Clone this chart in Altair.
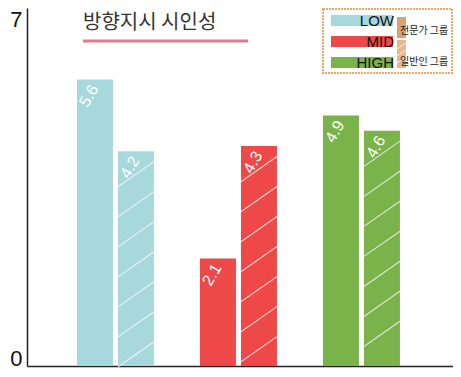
import altair as alt
import pandas as pd

groups = ["LOW", "MID", "HIGH"]
series = ["전문가 그룹", "일반인 그룹"]
expert = [5.6, 2.1, 4.9]
general = [4.2, 4.3, 4.6]
colors = ["#a7d8dc", "#ee4848", "#79b34a"]
title_text = "방향지시 시인성"
y_ticks = [0, 7]

rows = []
for g, e, n in zip(groups, expert, general):
    rows.append({"group": g, "series": series[0], "value": e})
    rows.append({"group": g, "series": series[1], "value": n})
df = pd.DataFrame(rows)
one = pd.DataFrame({"k": [0]})

W, H = 426, 358
xscale = alt.Scale(domain=groups, paddingInner=0.374, paddingOuter=0.4187, align=0.485)
xoff = alt.Scale(domain=series, paddingInner=0.122, paddingOuter=0)
yscale = alt.Scale(domain=[0, 7], nice=False)

top_test = f"datum.value == {y_ticks[-1]}"

base = alt.Chart(df)
X = alt.X("group:N", scale=xscale, sort=groups,
          axis=alt.Axis(labels=False, ticks=False, title=None, grid=False,
                        domainColor="#222", domainWidth=1.5))
XO = alt.XOffset("series:N", scale=xoff, sort=series)

bars = base.mark_bar().encode(
    x=X,
    xOffset=XO,
    y=alt.Y("value:Q", scale=yscale,
            axis=alt.Axis(values=y_ticks, title=None, grid=False, ticks=False,
                          domainColor="#222", domainWidth=1.5,
                          labelFont="Liberation Sans", labelFontSize=22,
                          labelColor="#111", labelPadding=5,
                          minExtent=19, maxExtent=19,
                          labelBaseline={"condition": {"test": top_test, "value": "top"},
                                         "value": "middle"},
                          labelOffset={"condition": {"test": top_test, "value": 1},
                                       "value": -8})),
    color=alt.Color("group:N", scale=alt.Scale(domain=groups, range=colors), legend=None),
)

hatch = base.transform_filter(alt.datum.series == series[1]).transform_calculate(
    hs="sequence(datum.value - 0.45, 0.2, -0.587)"
).transform_flatten(["hs"]).mark_point(
    shape="M-1,0.7L1,-0.7", size=1296, filled=False, stroke="white",
    strokeWidth=1.1, opacity=0.75
).encode(
    x=alt.X("group:N", scale=xscale, sort=groups),
    xOffset=XO,
    y=alt.Y("hs:Q", scale=yscale),
)

labels = base.mark_text(angle=300, color="white", font="Liberation Sans",
                        fontSize=16, dx=-17, dy=3).encode(
    x=alt.X("group:N", scale=xscale, sort=groups),
    xOffset=XO,
    y=alt.Y("value:Q", scale=yscale),
    text=alt.Text("value:Q", format=".1f"),
)

ob = alt.Chart(one)
title = ob.mark_text(align="left", baseline="middle", fontSize=20,
                     font="Noto Sans CJK KR", color="#333").encode(
    x=alt.value(56), y=alt.value(15), text=alt.value(title_text))
underline = ob.mark_rule(strokeWidth=3, color="#dd7f8e").encode(
    x=alt.value(56), x2=alt.value(221), y=alt.value(33))

box = ob.mark_rect(fill="white", stroke="#f0a868", strokeWidth=2, strokeDash=[2, 1]).encode(
    x=alt.value(296), x2=alt.value(425), y=alt.value(1), y2=alt.value(65))

legend_layers = [box]
sw_y = [7, 28, 49]
for i, g in enumerate(groups):
    legend_layers.append(ob.mark_rect(fill=colors[i]).encode(
        x=alt.value(304), x2=alt.value(366), y=alt.value(sw_y[i]), y2=alt.value(sw_y[i] + 11)))
    legend_layers.append(ob.mark_text(align="right", baseline="middle", fontSize=15,
                                      font="Liberation Sans", color="#111").encode(
        x=alt.value(367), y=alt.value(sw_y[i] + 6), text=alt.value(g)))

legend_layers.append(ob.mark_rect(fill="#d9a26f").encode(
    x=alt.value(370), x2=alt.value(379), y=alt.value(9), y2=alt.value(30)))
legend_layers.append(ob.mark_rect(fill="#e5b88e").encode(
    x=alt.value(370), x2=alt.value(379), y=alt.value(32), y2=alt.value(60)))
for y0 in [38, 45, 52]:
    legend_layers.append(ob.mark_rule(color="white", strokeWidth=1, opacity=0.7).encode(
        x=alt.value(370), x2=alt.value(379), y=alt.value(y0 + 3), y2=alt.value(y0 - 3)))
legend_layers.append(ob.mark_text(align="left", baseline="middle", fontSize=10,
                                  font="Noto Sans CJK KR", color="#222").encode(
    x=alt.value(373), y=alt.value(23), text=alt.value(series[0])))
legend_layers.append(ob.mark_text(align="left", baseline="middle", fontSize=10,
                                  font="Noto Sans CJK KR", color="#222").encode(
    x=alt.value(373), y=alt.value(54), text=alt.value(series[1])))

chart = alt.layer(bars, hatch, labels, title, underline, *legend_layers).properties(
    width=W, height=H, padding=0, background="white"
).configure_view(stroke=None)

chart.save("out.html", embed_options={"renderer": "svg", "actions": False})
